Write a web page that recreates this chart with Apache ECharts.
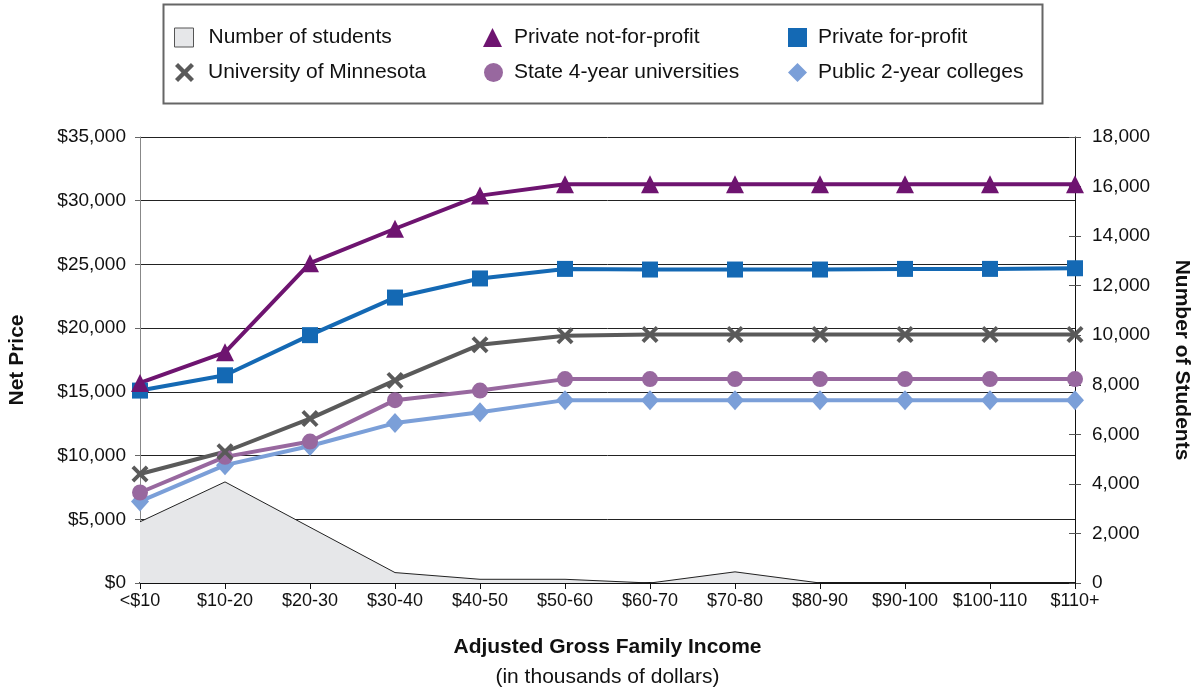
<!DOCTYPE html>
<html>
<head>
<meta charset="utf-8">
<script src="https://cdn.jsdelivr.net/npm/echarts@6/dist/echarts.min.js"></script>
<style>
  html,body{margin:0;padding:0;background:#fff;}
  #chartmain{width:1193px;height:688px;}
</style>
</head>
<body>
<div id="chartmain"></div>
<script>
// income brackets (thousands of dollars)
var categories = ['<$10','$10-20','$20-30','$30-40','$40-50','$50-60','$60-70','$70-80','$80-90','$90-100','$100-110','$110+'];

// net price by sector
var privateNonProfit = [15700,18100,25100,27800,30400,31300,31300,31300,31300,31300,31300,31300];
var privateForProfit = [15100,16300,19450,22400,23900,24650,24600,24600,24600,24650,24650,24700];
var uMinnesota      = [8550,10300,12900,15900,18700,19400,19500,19500,19500,19500,19500,19500];
var state4Year      = [7100,9900,11100,14350,15100,16000,16000,16000,16000,16000,16000,16000];
var public2Year     = [6400,9250,10750,12550,13400,14350,14350,14350,14350,14350,14350,14350];

// number of students (right axis)
var students = [2470,4080,2250,420,150,150,0,450,0,0,0,0];

var crossPath = 'path://M1.6,0L5,3.4L8.4,0L10,1.6L6.6,5L10,8.4L8.4,10L5,6.6L1.6,10L0,8.4L3.4,5L0,1.6Z';
var font = 'Liberation Sans, Arial, Helvetica, sans-serif';

function legendItem(left, top, item, pad) {
    return {
        left: left, top: top, padding: 0,
        itemWidth: 19, itemHeight: 19,
        selectedMode: false,
        data: [item],
        textStyle: {fontFamily: font, fontSize: 21, color: '#111', padding: [0,0,0,pad]}
    };
}

function lineSeries(name, data, color, symbol, size) {
    return {
        name: name, type: 'line', yAxisIndex: 0,
        data: data,
        symbol: symbol, symbolSize: size,
        lineStyle: {color: color, width: 4},
        itemStyle: {color: color},
        z: 3
    };
}

var myChart = echarts.init(document.getElementById('chartmain'));
myChart.setOption({
    animation: false,
    grid: {left: 140, right: 118, top: 137, bottom: 105, outerBoundsMode: 'none', containLabel: false},
    graphic: [{
        type: 'rect', left: 161, top: 2,
        shape: {width: 879, height: 99},
        style: {fill: 'none', stroke: '#666', lineWidth: 2}
    }],
    legend: [
        legendItem(174, 27, {name: 'Number of students', icon: 'rect', itemStyle: {color: '#e6e7e9', borderColor: '#555', borderWidth: 1}}, 10),
        legendItem(483, 27, {name: 'Private not-for-profit', icon: 'triangle'}, 7),
        legendItem(788, 27, {name: 'Private for-profit', icon: 'rect'}, 6),
        legendItem(175, 62, {name: 'University of Minnesota', icon: crossPath}, 9),
        legendItem(484, 62, {name: 'State 4-year universities', icon: 'circle'}, 6),
        legendItem(788, 62, {name: 'Public 2-year colleges', icon: 'diamond'}, 6)
    ],
    xAxis: {
        type: 'category', boundaryGap: false, data: categories,
        axisLine: {lineStyle: {color: '#111', width: 2}},
        axisTick: {show: true, length: 6, interval: 0, lineStyle: {color: '#111'}},
        axisLabel: {fontFamily: font, fontSize: 18, color: '#111', margin: 9, interval: 0, hideOverlap: false},
        name: '{a|Adjusted Gross Family Income}\n{b|(in thousands of dollars)}',
        nameLocation: 'middle', nameGap: 49,
        nameTextStyle: {
            rich: {
                a: {fontFamily: font, fontSize: 21, fontWeight: 'bold', color: '#111', lineHeight: 30},
                b: {fontFamily: font, fontSize: 21, color: '#111', lineHeight: 30}
            }
        }
    },
    yAxis: [{
        type: 'value', min: 0, max: 35000, interval: 5000,
        axisLine: {show: true, lineStyle: {color: '#888', width: 1}},
        axisTick: {show: true, length: 5, lineStyle: {color: '#666'}},
        axisLabel: {fontFamily: font, fontSize: 19, color: '#111', margin: 14,
            formatter: function (v) { return '$' + v.toLocaleString('en-US'); }},
        splitLine: {lineStyle: {color: '#222', width: 1}},
        name: 'Net Price', nameLocation: 'middle', nameRotate: 90, nameGap: 112,
        nameTextStyle: {fontFamily: font, fontSize: 21, fontWeight: 'bold', color: '#111'}
    }, {
        type: 'value', min: 0, max: 18000, interval: 2000,
        axisLine: {show: true, lineStyle: {color: '#111', width: 1}},
        axisTick: {show: true, length: 6, lineStyle: {color: '#555'}},
        axisLabel: {fontFamily: font, fontSize: 19, color: '#111', margin: 17,
            formatter: function (v) { return v.toLocaleString('en-US'); }},
        splitLine: {show: false},
        name: 'Number of Students', nameLocation: 'middle', nameRotate: -90, nameGap: 96,
        nameTextStyle: {fontFamily: font, fontSize: 21, fontWeight: 'bold', color: '#111'}
    }, {
        // inner half of the crossing ticks on the right axis
        type: 'value', min: 0, max: 18000, interval: 2000, position: 'right',
        axisLine: {show: false},
        axisTick: {show: true, inside: true, length: 6, lineStyle: {color: '#555'}},
        axisLabel: {show: false},
        splitLine: {show: false}
    }],
    series: [
        {
            name: 'Number of students', type: 'line', yAxisIndex: 1,
            data: students, symbol: 'none',
            lineStyle: {color: '#222', width: 1},
            areaStyle: {color: '#e6e7e9', opacity: 1},
            itemStyle: {color: '#e6e7e9'},
            z: 1
        },
        lineSeries('Public 2-year colleges', public2Year, '#7b9fd8', 'diamond', [18, 20]),
        lineSeries('State 4-year universities', state4Year, '#98689f', 'circle', 16),
        lineSeries('University of Minnesota', uMinnesota, '#5a5a5a', crossPath, 17),
        lineSeries('Private for-profit', privateForProfit, '#1469b4', 'rect', 16),
        lineSeries('Private not-for-profit', privateNonProfit, '#6e1470', 'triangle', 18)
    ]
});
</script>
</body>
</html>
